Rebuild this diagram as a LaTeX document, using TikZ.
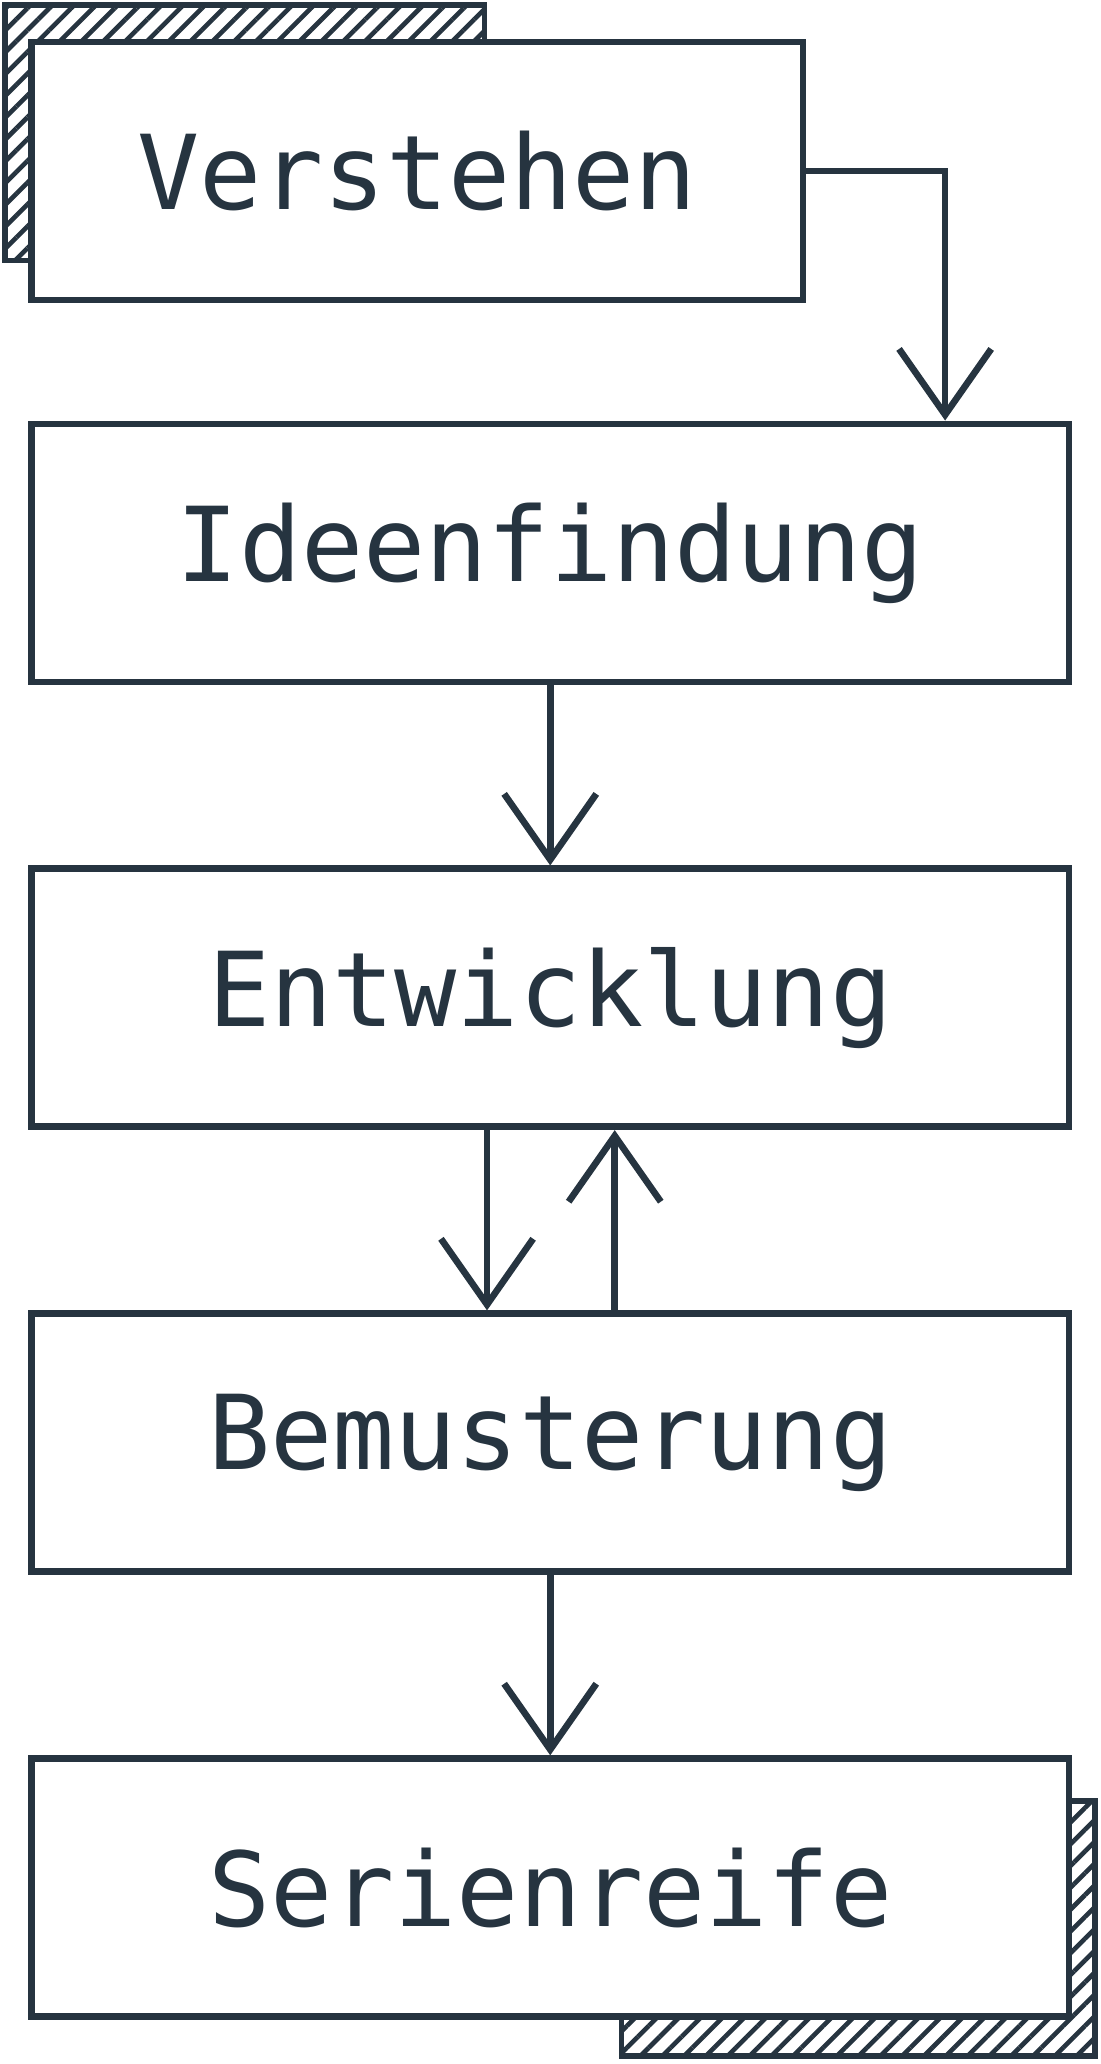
\documentclass[tikz,border=0pt]{standalone}
\usepackage{fontspec}
\setmonofont{DejaVu Sans Mono}
\usetikzlibrary{patterns.meta,arrows.meta}
\definecolor{ink}{HTML}{263440}
\begin{document}
\begin{tikzpicture}[x=0.03cm,y=-0.03cm,
  box/.style={draw=ink,line width=4.3pt,fill=white,minimum width=788*0.03cm,minimum height=196*0.03cm,inner sep=0,font=\ttfamily\fontsize{67}{72}\selectfont,text=ink},
  hatch/.style={draw=ink,line width=3.6pt,pattern={Lines[angle=45,distance=10pt,line width=3pt]},pattern color=ink},
  arr/.style={draw=ink,line width=4.3pt,-{Straight Barb[length=50*0.03cm,width=70*0.03cm,line width=4.3pt]}}]
\useasboundingbox (0,0) rectangle (836,1568);
\fill[white] (0,0) rectangle (836,1568);
\path[hatch] (4,4) -- (368,4) -- (368,40) -- (30,40) -- (30,198) -- (4,198) -- cycle;
\path[hatch] (832,1368) -- (832,1562) -- (472,1562) -- (472,1520) -- (800,1520) -- (800,1368) -- cycle;
\node[box,minimum width=586*0.03cm] (v) at (317,130) {Verstehen};
\node[box] (i) at (418,420) {Ideenfindung};
\node[box] (e) at (418,758) {Entwicklung};
\node[box] (b) at (418,1096) {Bemusterung};
\node[box] (s) at (418,1434) {Serienreife};
\coordinate (c1) at (718,130);
\draw[arr] (v.east) -- (c1) -- (c1 |- i.north);
\draw[arr] (i) -- (e);
\draw[arr] ([xshift=-48*0.03cm]e.south) -- ([xshift=-48*0.03cm]b.north);
\draw[arr] ([xshift=49*0.03cm]b.north) -- ([xshift=49*0.03cm]e.south);
\draw[arr] (b) -- (s);
\end{tikzpicture}
\end{document}
